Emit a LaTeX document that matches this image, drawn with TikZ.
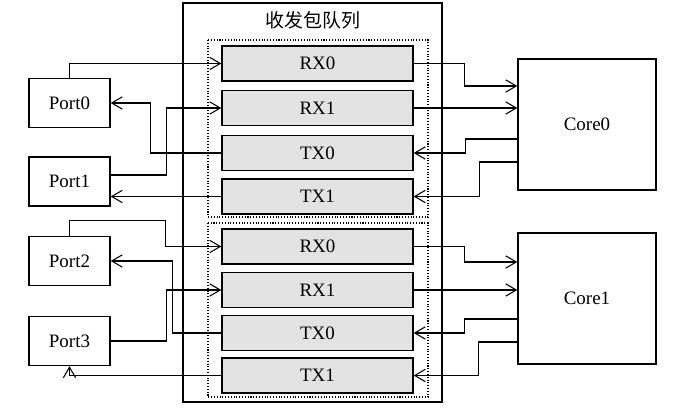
\documentclass[tikz,border=0pt]{standalone}
\usepackage{fontspec}
\setmainfont{Liberation Serif}
\newfontfamily\cjk{Noto Sans CJK SC}
\usetikzlibrary{arrows.meta, positioning}

\begin{document}
\begin{tikzpicture}[
  x=0.02cm, y=-0.02cm,
  every node/.style={font=\fontsize{10.8}{13}\selectfont},
  queue/.style={rectangle, draw, line width=0.8pt, fill=gray!22,
                minimum width=3.82cm, minimum height=0.7cm, inner sep=0pt},
  port/.style={rectangle, draw, line width=0.8pt, fill=white,
               minimum width=1.62cm, minimum height=0.98cm, inner sep=0pt},
  core/.style={rectangle, draw, line width=0.8pt, fill=white,
               minimum width=2.76cm, minimum height=2.62cm, inner sep=0pt},
  arr/.style={-{Straight Barb[length=6pt, width=7pt]}, line width=0.6pt},
]
\useasboundingbox (0,0) rectangle (687,411);

\def\xQ{317.5} \def\xP{69.5} \def\xC{587}

% frame of the queues
\draw[line width=0.8pt] (183,3) rectangle (442,402);
\node (title) at (313,20) {\cjk 收发包队列};
\draw[densely dotted, line width=0.6pt] (208,40) rectangle (428,217);
\draw[densely dotted, line width=0.6pt] (208,223) rectangle (428,397);

% queues, group a
\node[queue] (qa-rx0) at (\xQ,63.5)  {RX0};
\node[queue] (qa-rx1) at (\xQ,108)   {RX1};
\node[queue] (qa-tx0) at (\xQ,153)   {TX0};
\node[queue] (qa-tx1) at (\xQ,196.5) {TX1};

% queues, group b
\node[queue] (qb-rx0) at (\xQ,246.5) {RX0};
\node[queue] (qb-rx1) at (\xQ,290)   {RX1};
\node[queue] (qb-tx0) at (\xQ,333)   {TX0};
\node[queue] (qb-tx1) at (\xQ,375.5) {TX1};

% ports
\node[port] (p0) at (\xP,103)   {Port0};
\node[port] (p1) at (\xP,181.5) {Port1};
\node[port] (p2) at (\xP,261)   {Port2};
\node[port] (p3) at (\xP,341)   {Port3};

% cores
\node[core] (c0) at (\xC,124.5) {Core0};
\node[core] (c1) at (\xC,298.5) {Core1};

% ports <-> queues
\draw[arr] (p0.north) |- (qa-rx0.west);
\draw[arr] (qa-tx0.west) -- ++(-71,0) |- (p0.east);
\draw[arr] ([yshift=0.13cm]p1.east) -- ++(56,0) |- (qa-rx1.west);
\draw[arr] (qa-tx1.west) -- (qa-tx1.west -| p1.east);
\draw[arr] (p2.north) -- ++(0,-15) -- ++(96,0) |- (qb-rx0.west);
\draw[arr] (qb-tx0.west) -- ++(-49,0) |- (p2.east);
\draw[arr] (p3.east) -- ++(56,0) |- (qb-rx1.west);
\draw[arr] (qb-tx1.west) -| (p3.south);

% queues <-> Core0
\draw[arr] (qa-rx0.east) -- ++(51,0) |- ([yshift=0.77cm]c0.west);
\draw[arr] (qa-rx1.east) -- (qa-rx1.east -| c0.west);
\draw[arr] ([yshift=-0.29cm]c0.west) -- ++(-52,0) |- (qa-tx0.east);
\draw[arr] ([yshift=-0.75cm]c0.west) -- ++(-38,0) |- (qa-tx1.east);

% queues <-> Core1
\draw[arr] (qb-rx0.east) -- ++(51,0) |- ([yshift=0.73cm]c1.west);
\draw[arr] (qb-rx1.east) -- (qb-rx1.east -| c1.west);
\draw[arr] ([yshift=-0.41cm]c1.west) -- ++(-53,0) |- (qb-tx0.east);
\draw[arr] ([yshift=-0.87cm]c1.west) -- ++(-39,0) |- (qb-tx1.east);

\end{tikzpicture}
\end{document}
